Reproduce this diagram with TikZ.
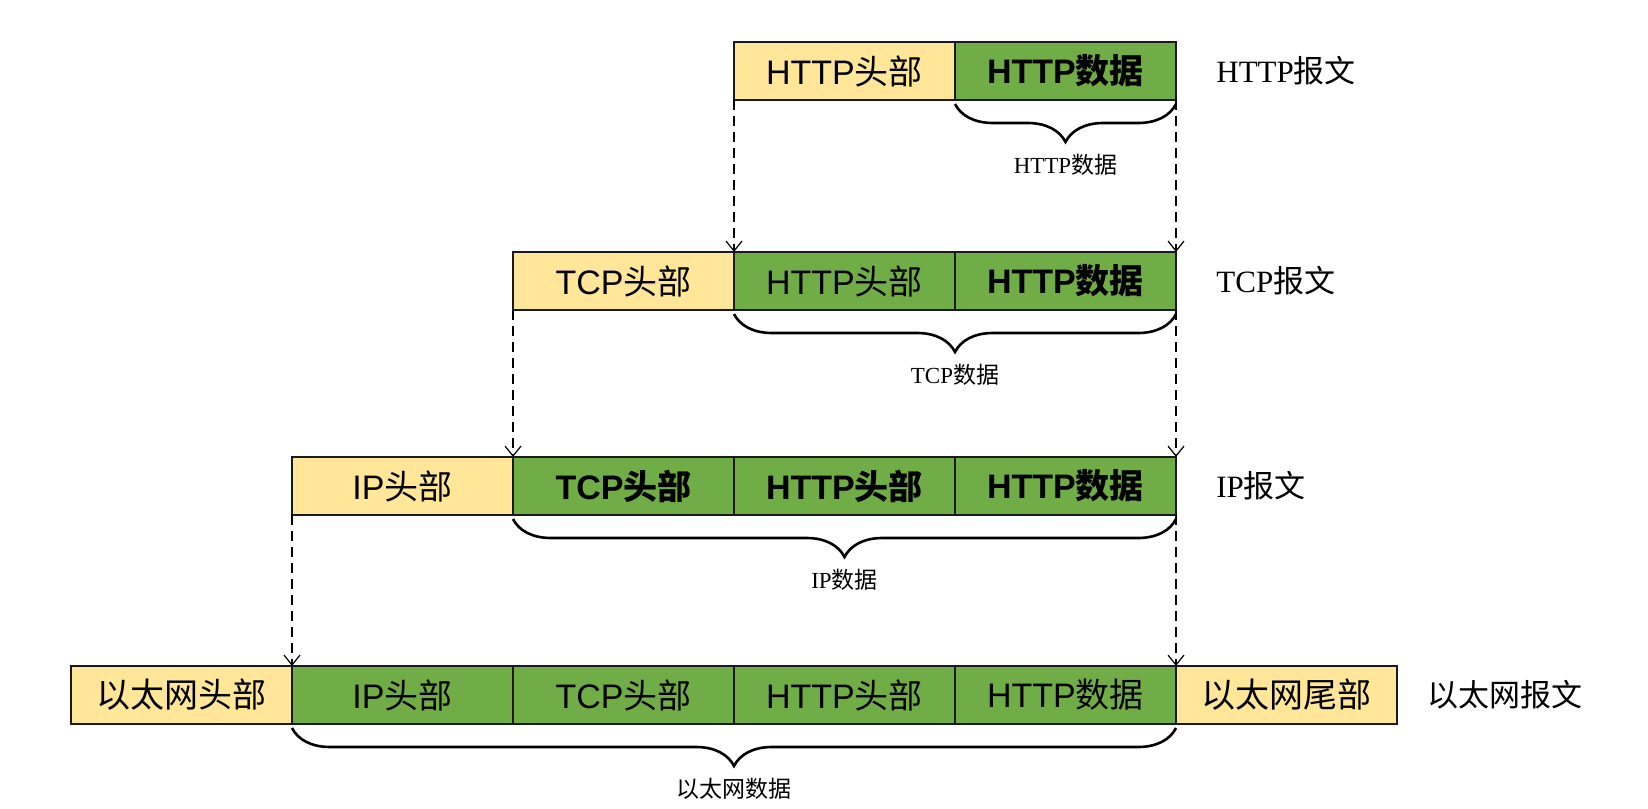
\documentclass[tikz,border=0pt]{standalone}
\usepackage{fontspec}
\setmainfont{Liberation Serif}
\newfontfamily\boxfont{Liberation Sans}
\newfontfamily\cjk{Noto Sans CJK SC}
\usetikzlibrary{arrows.meta, positioning, decorations.pathreplacing}
\definecolor{hdrFl}{HTML}{FFE699}
\definecolor{datFl}{HTML}{70AD47}
\definecolor{cellBd}{HTML}{1A1A1A}
\newcommand{\zh}[1]{{\cjk #1}}

\begin{document}
\begin{tikzpicture}[
  x=0.5pt, y=-0.5pt,
  cell/.style={draw=cellBd, line width=0.8pt, minimum width=110.5pt,
               minimum height=29pt, inner sep=0pt, outer sep=0pt,
               font=\boxfont\fontsize{17}{20}\selectfont},
  hdr/.style={cell, fill=hdrFl},
  dat/.style={cell, fill=datFl},
  link/.style={-{Straight Barb[length=5pt, width=8pt]}, line width=0.6pt,
               dash pattern=on 5pt off 3pt},
  brc/.style={decorate, decoration={brace, mirror, amplitude=19pt},
              line width=1.3pt},
  lbl/.style={font=\fontsize{11.5}{13}\selectfont, inner sep=1pt},
  tag/.style={font=\fontsize{15.5}{18}\selectfont, inner sep=0pt},
]
\useasboundingbox (0,0) rectangle (1648,808);

% ---------- HTTP ----------
\node[hdr, anchor=north west] (hHead) at (734,42) {HTTP\zh{头部}};
\node[dat, right=0pt of hHead] (hData) {\bfseries HTTP\zh{数据}};

% ---------- TCP ----------
\node[hdr, anchor=north west] (tHead) at (513,252) {TCP\zh{头部}};
\node[dat, right=0pt of tHead] (tHttpH) {HTTP\zh{头部}};
\node[dat, right=0pt of tHttpH] (tHttpD) {\bfseries HTTP\zh{数据}};

% ---------- IP ----------
\node[hdr, anchor=north west] (iHead) at (292,457) {IP\zh{头部}};
\node[dat, right=0pt of iHead] (iTcp) {\bfseries TCP\zh{头部}};
\node[dat, right=0pt of iTcp] (iHttpH) {\bfseries HTTP\zh{头部}};
\node[dat, right=0pt of iHttpH] (iHttpD) {\bfseries HTTP\zh{数据}};

% ---------- Ethernet ----------
\node[hdr, anchor=north west] (eHead) at (71,666) {\zh{以太网头部}};
\node[dat, right=0pt of eHead] (eIp) {IP\zh{头部}};
\node[dat, right=0pt of eIp] (eTcp) {TCP\zh{头部}};
\node[dat, right=0pt of eTcp] (eHttpH) {HTTP\zh{头部}};
\node[dat, right=0pt of eHttpH] (eHttpD) {HTTP\zh{数据}};
\node[hdr, right=0pt of eHttpD] (eTail) {\zh{以太网尾部}};

% ---------- packet names ----------
\node[tag, right=20pt of hData] (hTag) {HTTP\zh{报文}};
\node[tag, right=20pt of tHttpD] (tTag) {TCP\zh{报文}};
\node[tag, right=20pt of iHttpD] (iTag) {IP\zh{报文}};
\node[tag, right=15pt of eTail] (eTag) {\zh{以太网报文}};

% ---------- payload braces ----------
\draw[brc] ([yshift=-2pt]hData.south west) -- ([yshift=-2pt]hData.south east);
\node[lbl] (hLbl) at ([yshift=-32.5pt]hData.south) {HTTP\zh{数据}};
\draw[brc] ([yshift=-2pt]tHttpH.south west) -- ([yshift=-2pt]tHttpD.south east);
\node[lbl] (tLbl) at ([yshift=-32.5pt]tHttpH.south east) {TCP\zh{数据}};
\draw[brc] ([yshift=-2pt]iTcp.south west) -- ([yshift=-2pt]iHttpD.south east);
\node[lbl] (iLbl) at ([yshift=-32.5pt]iHttpH.south) {IP\zh{数据}};
\draw[brc] ([yshift=-2pt]eIp.south west) -- ([yshift=-2pt]eHttpD.south east);
\node[lbl] (eLbl) at ([yshift=-32.5pt]eTcp.south east) {\zh{以太网数据}};

% ---------- encapsulation ----------
\draw[link] (hHead.south west) -- (tHttpH.north west);
\draw[link] (hData.south east) -- (tHttpD.north east);
\draw[link] (tHead.south west) -- (iTcp.north west);
\draw[link] (tHttpD.south east) -- (iHttpD.north east);
\draw[link] (iHead.south west) -- (eIp.north west);
\draw[link] (iHttpD.south east) -- (eHttpD.north east);

\end{tikzpicture}
\end{document}
